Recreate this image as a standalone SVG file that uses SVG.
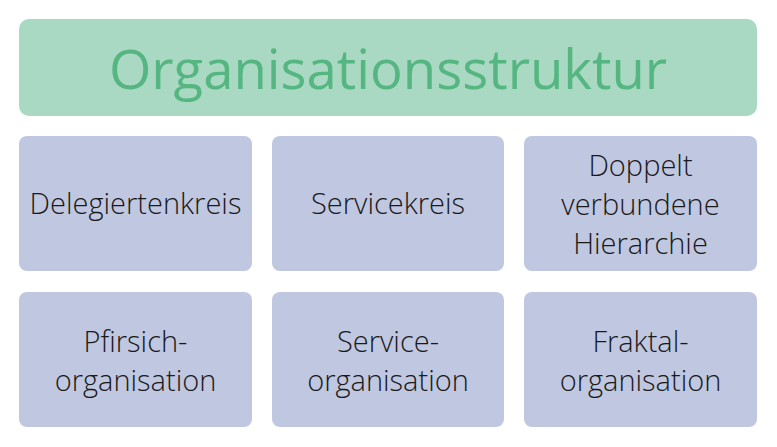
<svg xmlns="http://www.w3.org/2000/svg" width="777" height="447" viewBox="0 0 777 447">
<style>
.title{fill:#a9d9c2}
.box{fill:#c0c7e1}
.tt{font-family:"Open Sans",sans-serif;font-weight:400;font-size:54.5px;fill:#55b682;text-anchor:middle}
.t{font-family:"Open Sans",sans-serif;font-weight:300;font-size:29px;fill:#1a1a1a;text-anchor:middle}
</style>
<rect width="777" height="447" fill="#fff"/>
<g id="title"><rect class="title" x="19" y="19" width="738" height="97" rx="10"/><text class="tt" x="388" y="89">Organisationsstruktur</text></g>
<g id="n1"><rect class="box" x="19" y="136" width="233" height="135" rx="8"/><text class="t" x="135.5" y="214">Delegiertenkreis</text></g>
<g id="n2"><rect class="box" x="272" y="136" width="232" height="135" rx="8"/><text class="t" x="388" y="214">Servicekreis</text></g>
<g id="n3"><rect class="box" x="524" y="136" width="233" height="135" rx="8"/><text class="t" x="640.5" y="176">Doppelt</text><text class="t" x="640.5" y="215">verbundene</text><text class="t" x="640.5" y="254">Hierarchie</text></g>
<g id="n4"><rect class="box" x="19" y="292" width="233" height="135" rx="8"/><text class="t" x="135.5" y="352">Pfirsich-</text><text class="t" x="135.5" y="391">organisation</text></g>
<g id="n5"><rect class="box" x="272" y="292" width="232" height="135" rx="8"/><text class="t" x="388" y="352">Service-</text><text class="t" x="388" y="391">organisation</text></g>
<g id="n6"><rect class="box" x="524" y="292" width="233" height="135" rx="8"/><text class="t" x="640.5" y="352">Fraktal-</text><text class="t" x="640.5" y="391">organisation</text></g>
<g id="connectors"></g>
</svg>
